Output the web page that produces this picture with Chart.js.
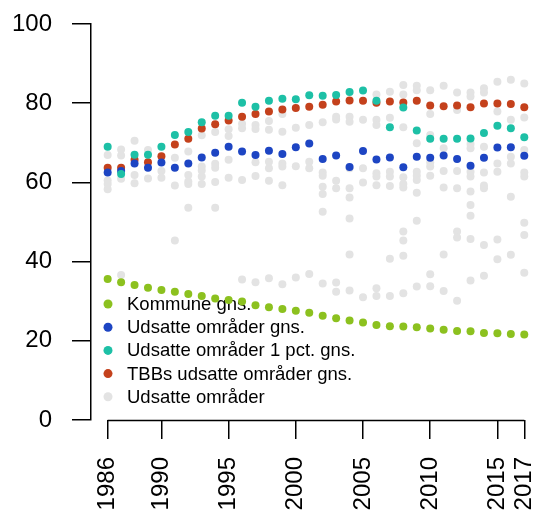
<!DOCTYPE html>
<html>
<head>
<meta charset="utf-8">
<script src="https://cdn.jsdelivr.net/npm/chart.js@4.4.1/dist/chart.umd.min.js"></script>
<style>
  html, body { margin: 0; padding: 0; background: #fff; }
  #wrap { width: 537px; height: 516px; }
</style>
</head>
<body>
<div id="wrap"><canvas id="chart" width="537" height="516"></canvas></div>
<script>
// Years on the x axis and the labelled ticks
const years = [1986, 1987, 1988, 1989, 1990, 1991, 1992, 1993, 1994, 1995, 1996,
  1997, 1998, 1999, 2000, 2001, 2002, 2003, 2004, 2005, 2006, 2007, 2008,
  2009, 2010, 2011, 2012, 2013, 2014, 2015, 2016, 2017];
const xTickYears = [1986, 1990, 1995, 2000, 2005, 2010, 2015, 2017];
const yTicks = [0, 20, 40, 60, 80, 100];

// Averages
const kommuneGns = [35.6, 34.8, 34.1, 33.4, 32.8, 32.4, 31.8, 31.3, 30.7, 30.3, 29.9,
  29.0, 28.5, 28.0, 27.6, 27.1, 26.3, 25.7, 25.1, 24.6, 24.0, 23.7, 23.6,
  23.4, 23.1, 22.8, 22.5, 22.4, 22.0, 21.9, 21.7, 21.6];
const udsatteGns = [62.5, 62.9, 64.8, 63.7, 65.0, 63.7, 64.8, 66.3, 67.5, 69.0, 67.8,
  66.9, 68.0, 67.2, 68.9, 69.8, 65.9, 66.8, 63.9, 67.9, 65.8, 66.3, 63.8,
  66.5, 66.2, 66.8, 65.9, 64.2, 66.2, 68.8, 68.9, 66.7];
const udsatte1pct = [69.0, 62.1, 67.0, 67.0, 69.0, 72.0, 72.7, 75.2, 76.8, 76.8, 80.1,
  79.1, 80.6, 81.1, 81.0, 82.0, 81.9, 82.1, 82.8, 83.2, 80.6, 73.9, 78.9,
  73.1, 71.0, 71.0, 71.0, 71.1, 72.5, 74.3, 73.7, 71.4];
const tbbGns = [63.7, 63.7, 65.7, 65.1, 66.6, 69.6, 71.0, 73.6, 74.7, 75.6, 76.6,
  77.3, 77.9, 78.4, 78.8, 79.1, 79.6, 80.4, 80.7, 80.6, 80.1, 80.4, 80.2,
  80.6, 79.4, 79.2, 79.4, 79.0, 79.9, 79.9, 79.8, 79.0];

// Individual areas, one list per year
const udsatteOmr = [
  [66.9, 60.5, 59.6, 58.3],
  [68.3, 66.8, 60.9, 36.6],
  [70.5, 61.9, 59.8],
  [68.2, 61.0],
  [62.9, 61.2],
  [66.2, 59.2, 45.3],
  [67.8, 61.9, 60.2, 59.6, 53.6],
  [71.9, 64.0, 63.0, 61.5, 59.6],
  [72.7, 64.7, 63.7, 60.1, 53.6],
  [73.4, 71.7, 65.7, 61.2],
  [74.8, 73.7, 60.6, 35.5],
  [74.5, 73.5, 65.1, 61.6, 34.8],
  [75.5, 73.3, 65.2, 63.6, 60.4, 35.8],
  [77.3, 72.8, 64.8, 64.0, 59.3, 34.3],
  [73.8, 64.1, 36.0],
  [74.5, 65.2, 63.6, 36.9],
  [75.2, 62.5, 61.7, 58.9, 57.1, 52.6, 34.5],
  [76.6, 75.9, 60.4, 58.5, 34.7, 32.4],
  [76.6, 75.3, 63.6, 58.5, 56.2, 50.9, 41.8, 32.7],
  [75.8, 63.6, 60.0, 31.0],
  [82.2, 75.8, 74.5, 62.3, 61.5, 59.3, 33.3, 31.3],
  [82.9, 76.3, 62.7, 61.5, 59.1, 40.7, 31.3],
  [84.6, 82.2, 73.9, 61.3, 59.6, 58.7, 47.6, 45.3, 41.5, 32.0],
  [84.4, 83.3, 69.9, 62.7, 61.7, 60.6, 57.4, 50.3, 33.7],
  [83.3, 77.3, 72.0, 65.1, 64.0, 61.7, 36.8, 33.8],
  [84.4, 68.6, 62.9, 58.7, 41.8, 32.6],
  [82.7, 78.3, 62.9, 58.5, 47.6, 46.1, 30.1],
  [82.7, 81.7, 69.7, 68.6, 62.7, 61.5, 57.7, 54.3, 51.6, 45.7, 35.2],
  [83.8, 82.7, 69.0, 62.5, 59.2, 58.5, 44.2, 36.4],
  [85.4, 77.9, 64.8, 62.7, 45.6, 40.6],
  [85.9, 75.8, 66.5, 64.8, 56.4, 41.7],
  [85.0, 76.4, 68.2, 62.5, 61.5, 49.8, 46.7, 37.2]
];

const FONT = "'Liberation Sans', Arial, sans-serif";

function toPoints(values) {
  return values.map((v, i) => ({ x: years[i], y: v }));
}

const grayPoints = [];
udsatteOmr.forEach((list, i) => {
  list.forEach(v => grayPoints.push({ x: years[i], y: v }));
});

function dotSet(label, data, color, order) {
  return {
    label: label,
    data: data,
    backgroundColor: color,
    borderWidth: 0,
    pointRadius: 4,
    pointHoverRadius: 4,
    order: order
  };
}

// legend drawn inside the plot, under the points
const insideLegend = {
  id: 'insideLegend',
  beforeDatasetsDraw(chart) {
    const ctx = chart.ctx;
    const area = chart.chartArea;
    const x0 = area.left + 17;
    let y = area.bottom - 116;
    ctx.save();
    ctx.font = '18.5px ' + FONT;
    ctx.textBaseline = 'middle';
    ctx.textAlign = 'left';
    chart.data.datasets.forEach(ds => {
      ctx.fillStyle = ds.backgroundColor;
      ctx.beginPath();
      ctx.arc(x0, y, 4.5, 0, Math.PI * 2);
      ctx.fill();
      ctx.fillStyle = '#000';
      ctx.fillText(ds.label, x0 + 19, y + 1);
      y += 23.2;
    });
    ctx.restore();
  }
};

// x axis line only from the first to the last labelled year
const xBracket = {
  id: 'xBracket',
  afterDraw(chart) {
    const xs = chart.scales.x;
    const ctx = chart.ctx;
    const y = chart.chartArea.bottom + 0.5;
    ctx.save();
    ctx.strokeStyle = '#000';
    ctx.lineWidth = 1.5;
    ctx.beginPath();
    ctx.moveTo(xs.getPixelForValue(xTickYears[0]), y);
    ctx.lineTo(xs.getPixelForValue(xTickYears[xTickYears.length - 1]), y);
    ctx.stroke();
    ctx.restore();
  }
};

new Chart(document.getElementById('chart').getContext('2d'), {
  type: 'scatter',
  data: {
    datasets: [
      dotSet('Kommune gns.', toPoints(kommuneGns), '#8cc11f', 0),
      dotSet('Udsatte områder gns.', toPoints(udsatteGns), '#1d45c3', 2),
      dotSet('Udsatte områder 1 pct. gns.', toPoints(udsatte1pct), '#1dc0a6', 1),
      dotSet('TBBs udsatte områder gns.', toPoints(tbbGns), '#c4411c', 3),
      dotSet('Udsatte områder', grayPoints, '#e3e3e3', 4)
    ]
  },
  options: {
    responsive: false,
    animation: false,
    layout: { padding: { top: 24, right: 6, left: 0, bottom: 0 } },
    plugins: {
      legend: { display: false },
      tooltip: { enabled: false }
    },
    scales: {
      x: {
        type: 'linear',
        min: 1984.76,
        max: 2017.5,
        afterBuildTicks: s => { s.ticks = xTickYears.map(v => ({ value: v })); },
        afterFit: s => { s.height = 96; s.paddingLeft = 0; s.paddingRight = 0; },
        border: { display: false },
        grid: { drawOnChartArea: false, drawTicks: true, tickLength: 19, color: '#000', lineWidth: 1.5 },
        ticks: {
          autoSkip: false,
          minRotation: 90,
          maxRotation: 90,
          padding: 18,
          color: '#000',
          font: { family: FONT, size: 24 },
          callback: v => String(v)
        }
      },
      y: {
        min: 0,
        max: 100,
        afterBuildTicks: s => { s.ticks = yTicks.map(v => ({ value: v })); },
        afterFit: s => { s.width = 91; s.paddingTop = 0; s.paddingBottom = 0; },
        border: { display: true, color: '#000', width: 1.5 },
        grid: { drawOnChartArea: false, drawTicks: true, tickLength: 19, color: '#000', lineWidth: 1.5 },
        ticks: {
          padding: 20,
          color: '#000',
          font: { family: FONT, size: 24 }
        }
      }
    }
  },
  plugins: [insideLegend, xBracket]
});
</script>
</body>
</html>
